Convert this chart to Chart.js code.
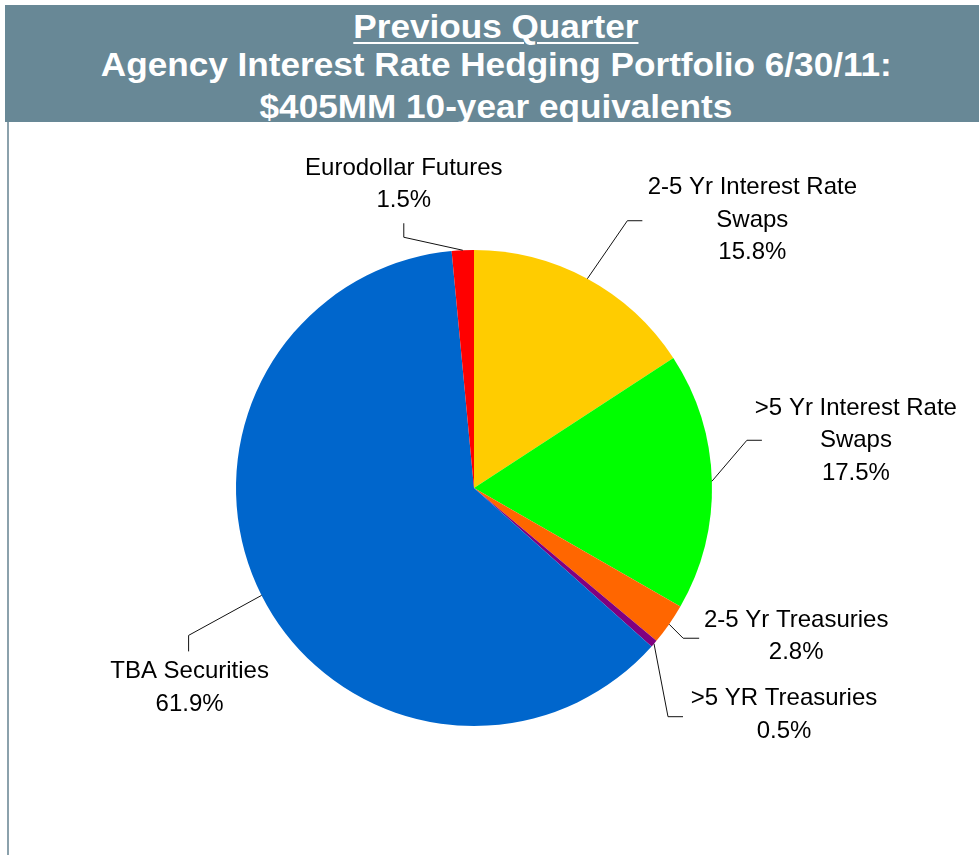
<!DOCTYPE html>
<html>
<head>
<meta charset="utf-8">
<title>Agency Interest Rate Hedging Portfolio 6/30/11</title>
<script src="https://cdn.jsdelivr.net/npm/chart.js@4"></script>
<style>
  html, body { margin: 0; padding: 0; background: #fff; }
  #page { position: relative; width: 979px; height: 855px; overflow: hidden; }
  #header {
    position: absolute; left: 5px; top: 5px; width: 974px; height: 117px;
    background: #688896; overflow: hidden; z-index: 2;
  }
  .tline {
    position: absolute; left: 0; width: 982px; text-align: center;
    font: bold 33px "Liberation Sans", Arial, sans-serif; line-height: 33px;
    color: #fff; white-space: nowrap;
  }
  .tline span { display: inline-block; transform: scaleX(1.065); transform-origin: 50% 50%; }
  .tline u { text-decoration-thickness: 2px; text-underline-offset: 4px; }
  #leftRule { position: absolute; left: 7px; top: 122px; width: 2px; height: 733px; background: #8ba1ac; }
  #chartBox { position: absolute; left: 0; top: 0; width: 979px; height: 855px; z-index: 1; }
</style>
</head>
<body>
<div id="page">
  <div id="header">
    <div class="tline" style="top:5px"><span><u>Previous Quarter</u></span></div>
    <div class="tline" style="top:43px"><span>Agency Interest Rate Hedging Portfolio 6/30/11:</span></div>
    <div class="tline" style="top:85px"><span>$405MM 10-year equivalents</span></div>
  </div>
  <div id="leftRule"></div>
  <div id="chartBox"><canvas id="pie"></canvas></div>
</div>
<script>
// slices, clockwise from 12 o'clock
const categories = [
    ['2-5 Yr Interest Rate', 'Swaps'],
    ['>5 Yr Interest Rate', 'Swaps'],
    ['2-5 Yr Treasuries'],
    ['>5 YR Treasuries'],
    ['TBA Securities'],
    ['Eurodollar Futures']
];
const shares = [15.8, 17.5, 2.8, 0.5, 61.9, 1.5];
const sliceColors = ['#ffcc00', '#00ff00', '#ff6600', '#800080', '#0066cc', '#ff0000'];

// leader line elbow / end and first text line, relative to the slice's edge midpoint
const labelLayout = [
    { elbow: [40, -58], end: [55, -58], text: [165, -91] },
    { elbow: [35, -41], end: [50, -41], text: [144, -73] },
    { elbow: [14, 14],  end: [30, 14],  text: [127, -4] },
    { elbow: [14, 73],  end: [29, 73],  text: [130, 55] },
    { elbow: [-73, 40], end: [-73, 56], text: [-72, 76] },
    { elbow: [-59, -13], end: [-59, -27], text: [-59, -82] }
];

const sliceLabels = {
    id: 'sliceLabels',
    afterDraw(chart) {
        const ctx = chart.ctx;
        const arcs = chart.getDatasetMeta(0).data;
        ctx.save();
        ctx.font = '24px "Liberation Sans", Arial, sans-serif';
        ctx.fillStyle = '#000';
        ctx.textAlign = 'center';
        ctx.textBaseline = 'middle';
        ctx.strokeStyle = '#111';
        ctx.lineWidth = 1;
        arcs.forEach((arc, i) => {
            const p = arc.getProps(['x', 'y', 'startAngle', 'endAngle', 'outerRadius'], true);
            const mid = (p.startAngle + p.endAngle) / 2;
            const ax = p.x + Math.cos(mid) * p.outerRadius;
            const ay = p.y + Math.sin(mid) * p.outerRadius;
            const lay = labelLayout[i];

            ctx.beginPath();
            ctx.moveTo(ax, ay);
            ctx.lineTo(ax + lay.elbow[0], ay + lay.elbow[1]);
            ctx.lineTo(ax + lay.end[0], ay + lay.end[1]);
            ctx.stroke();

            const lines = categories[i].concat([shares[i].toFixed(1) + '%']);
            lines.forEach((txt, k) => {
                ctx.fillText(txt, ax + lay.text[0], ay + lay.text[1] + k * 32.5);
            });
        });
        ctx.restore();
    }
};

new Chart(document.getElementById('pie'), {
    type: 'pie',
    data: {
        labels: categories.map(l => l.join(' ')),
        datasets: [{
            data: shares,
            backgroundColor: sliceColors,
            borderWidth: 0
        }]
    },
    options: {
        responsive: true,
        maintainAspectRatio: false,
        animation: false,
        layout: { padding: { left: 236, top: 250, right: 267, bottom: 129 } },
        plugins: { legend: { display: false }, tooltip: { enabled: false } }
    },
    plugins: [sliceLabels]
});
</script>
</body>
</html>
